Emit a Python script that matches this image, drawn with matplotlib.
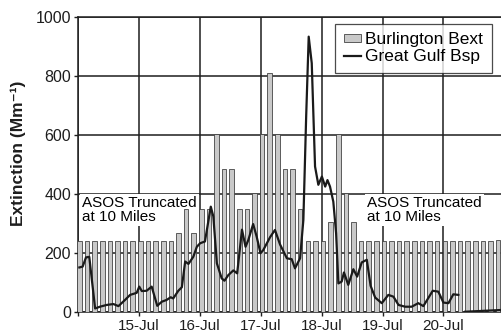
import numpy as np
import matplotlib
matplotlib.use("Agg")
import matplotlib.pyplot as plt

plt.rcParams['font.family'] = ['Liberation Sans', 'DejaVu Sans']

# Burlington Bext, 3-hourly bars starting 14-Jul 00:00
bext = [240, 240, 240, 240, 240, 240, 240, 240, 240, 240, 240, 240, 240,
        270, 350, 270, 350, 350, 605, 485, 485, 350, 350, 405, 605, 810,
        605, 485, 485, 350, 240, 240, 240, 305, 605, 405, 305,
        240, 240, 240, 240, 240, 240, 240, 240, 240, 240, 240, 240, 240,
        240, 240, 240, 240, 240, 245]

# Great Gulf Bsp, hours since 14-Jul 00:00
gg_hours = [0.5, 1.8, 3.1, 4.4, 6.7, 8.6, 11.3, 13.9, 15.9, 18.5, 20.5, 23.1,
            24.1, 25.1, 27.0, 29.0, 31.2, 33.0, 34.9, 36.5, 37.5, 39.5, 40.9,
            42.2, 43.5, 45.4, 46.8, 48.1, 50.0, 52.3, 53.3, 54.7, 56.6, 57.7,
            59.2, 61.2, 62.7, 64.6, 66.0, 67.1, 69.0, 70.4, 71.9, 73.0, 75.7,
            77.6, 79.6, 82.3, 84.2, 85.5, 87.5, 88.8, 89.9, 90.9, 92.1, 93.4,
            94.7, 96.1, 97.4, 98.3, 99.3, 100.6, 101.7, 102.6, 103.9, 104.8,
            106.5, 108.5, 110.0, 111.8, 113.8, 115.3, 117.1, 119.7, 122.3,
            124.3, 126.3, 128.9, 131.5, 134.1, 136.1, 139.8, 142.0, 144.0,
            146.0, 147.9, 149.9, 151.0, 152.6, 167.1]
gg_bsp = [152, 155, 186, 188, 13, 19, 25, 28, 21, 42, 59, 66,
          87, 72, 73, 87, 22, 36, 42, 51, 47, 73, 85,
          172, 164, 188, 222, 234, 240, 358, 325, 166, 115, 107,
          126, 142, 132, 280, 222, 245, 299, 256, 200, 211, 255,
          279, 230, 183, 180, 149, 183, 313, 663, 934, 844, 494,
          432, 460, 426, 448, 426, 375, 268, 98, 104, 135,
          93, 146, 121, 169, 178, 90, 50, 31, 59,
          53, 25, 19, 19, 31, 21, 73, 70, 33,
          31, 61, 59, np.nan, 2, 8]

day_labels = ['15-Jul', '16-Jul', '17-Jul', '18-Jul', '19-Jul', '20-Jul']

fig = plt.figure(figsize=(5.02, 3.32), dpi=100)
ax = fig.add_axes([0.1556, 0.0593, 0.8444, 0.889])

bar_x = np.arange(len(bext)) * 3 + 0.55
bars = ax.bar(bar_x, bext, width=1.8, color='#c9c9c9', edgecolor='#444444',
              linewidth=0.6, zorder=3, label='Burlington Bext')
line, = ax.plot(gg_hours, gg_bsp, color='#1a1a1a', lw=1.6, zorder=4,
                label='Great Gulf Bsp')

ax.set_xlim(0, 167.1)
ax.set_ylim(0, 1000)
ax.set_xticks(np.arange(0, 168, 24))
ax.set_xticklabels([''] + day_labels)
ax.set_yticks(np.arange(0, 1001, 200))
ax.grid(True, color='#1e1e1e', lw=1.1, zorder=0)
ax.set_axisbelow(True)
ax.tick_params(axis='both', direction='out', length=3, width=1,
               labelsize=11, pad=2, colors='#1e1e1e')
ax.tick_params(axis='y', labelsize=11.5)
for s in ['left', 'bottom', 'top']:
    ax.spines[s].set_color('#1e1e1e')
    ax.spines[s].set_linewidth(1.1)
ax.spines['right'].set_visible(False)

fig.text(18.5 / 502, 1 - 153 / 332, 'Extinction (Mm\u207b\u00b9)',
         rotation=90, ha='center', va='center', fontsize=12.5,
         fontweight='bold', color='#1e1e1e')

box = dict(facecolor='white', edgecolor='none', pad=1.5)
ax.text(1.5, 395, 'ASOS Truncated\nat 10 Miles', fontsize=11, va='top',
        ha='left', bbox=box, zorder=2, linespacing=1.0)
ax.text(113.9, 395, 'ASOS Truncated\nat 10 Miles', fontsize=11, va='top',
        ha='left', bbox=box, zorder=2, linespacing=1.0)

leg = ax.legend([bars, line], ['Burlington Bext', 'Great Gulf Bsp'],
                loc='upper right', bbox_to_anchor=(0.976, 0.978),
                fontsize=12.5, frameon=True, fancybox=False,
                handlelength=1.0, handleheight=0.35, handletextpad=0.25,
                borderpad=0.5, labelspacing=0.12, borderaxespad=0)
leg.get_frame().set_edgecolor('#1e1e1e')
leg.get_frame().set_linewidth(0.9)

fig.savefig('out.png', dpi=100)
